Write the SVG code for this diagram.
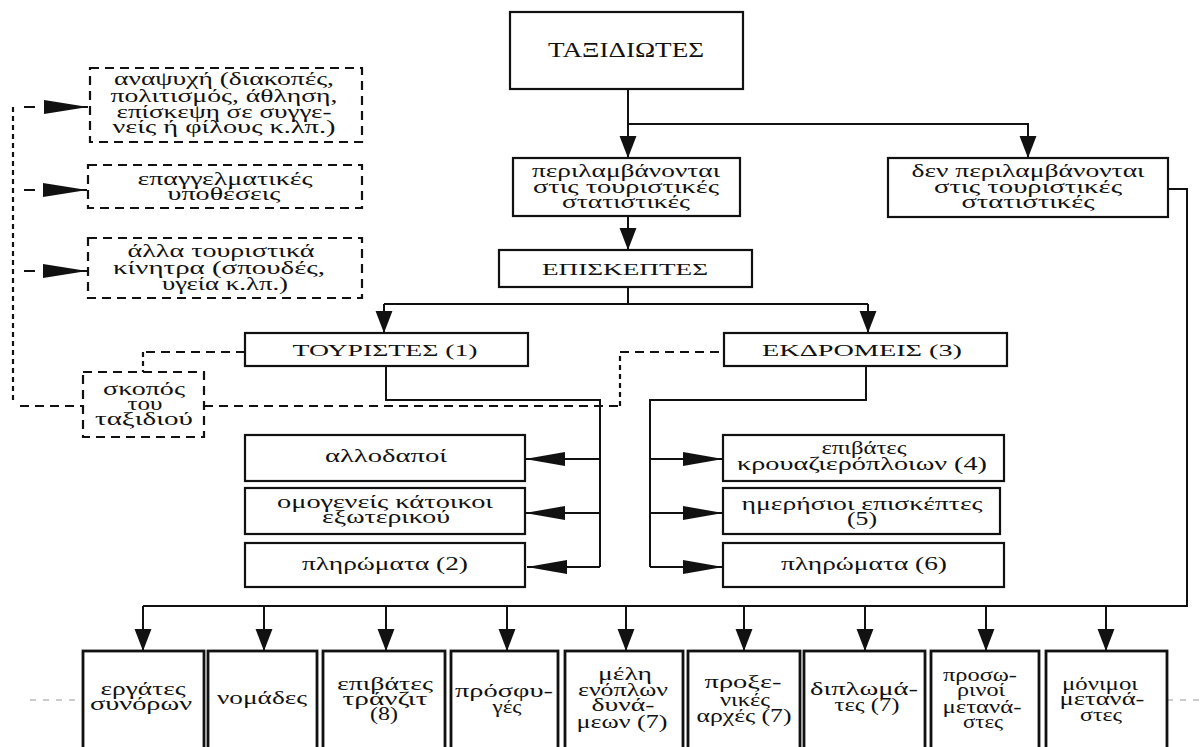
<svg xmlns="http://www.w3.org/2000/svg" width="1203" height="747" viewBox="0 0 1203 747">
<style>
text{font-family:"Liberation Serif","DejaVu Serif",serif;font-size:19px;fill:#111;text-anchor:middle}
.cap{font-size:17px}
.big{font-size:20px}
.box{fill:#fff;stroke:#111;stroke-width:2.2}
.bbox{fill:#fff;stroke:#111;stroke-width:2.8}
.dbox{fill:#fff;stroke:#111;stroke-width:2.2;stroke-dasharray:9 6}
.ln{fill:none;stroke:#111;stroke-width:2}
.dash{fill:none;stroke:#111;stroke-width:2;stroke-dasharray:9 6}
.dot{fill:none;stroke:#111;stroke-width:2.2;stroke-dasharray:5 4}
.art{fill:none;stroke:#999;stroke-width:1;stroke-dasharray:6 7}
</style>
<defs>
<marker id="ad" markerUnits="userSpaceOnUse" markerWidth="22" markerHeight="28" refX="26" refY="10" viewBox="0 0 26 20" orient="auto"><path d="M0,0 L26,10 L0,20 z" fill="#111"/></marker>
<marker id="ah" markerUnits="userSpaceOnUse" markerWidth="40" markerHeight="14" refX="40" refY="7" viewBox="0 0 40 14" orient="auto"><path d="M0,0 L40,7 L0,14 z" fill="#111"/></marker>
<marker id="al" markerUnits="userSpaceOnUse" markerWidth="44" markerHeight="14" refX="44" refY="7" viewBox="0 0 44 14" orient="auto"><path d="M0,0 L44,7 L0,14 z" fill="#111"/></marker>
</defs>
<rect width="1203" height="747" fill="#fff"/>
<g id="artifacts">
<path class="art" d="M30,700 H83 M1167,700 H1203"/>
</g>
<g id="connectors">
<path class="ln" d="M628,89 V158" marker-end="url(#ad)"/>
<path class="ln" d="M628,124 H1028 V158" marker-end="url(#ad)"/>
<path class="ln" d="M628,216 V250" marker-end="url(#ad)"/>
<path class="ln" d="M628,287 V304 M384,304 H868"/>
<path class="ln" d="M384,304 V333" marker-end="url(#ad)"/>
<path class="ln" d="M868,304 V333" marker-end="url(#ad)"/>
<path class="ln" d="M386,366 V400 H600 V567"/>
<path class="ln" d="M600,459 H525" marker-end="url(#ah)"/>
<path class="ln" d="M600,513 H525" marker-end="url(#ah)"/>
<path class="ln" d="M600,567 H527" marker-end="url(#ah)"/>
<path class="ln" d="M866,366 V400 H650 V567"/>
<path class="ln" d="M650,459 H723" marker-end="url(#ah)"/>
<path class="ln" d="M650,513 H723" marker-end="url(#ah)"/>
<path class="ln" d="M650,567 H723" marker-end="url(#ah)"/>
<path class="ln" d="M1168,189 H1187 V606 H143"/>
<path class="ln" d="M143,606 V651" marker-end="url(#ad)"/>
<path class="ln" d="M264,606 V651" marker-end="url(#ad)"/>
<path class="ln" d="M386,606 V651" marker-end="url(#ad)"/>
<path class="ln" d="M507,606 V651" marker-end="url(#ad)"/>
<path class="ln" d="M626,606 V651" marker-end="url(#ad)"/>
<path class="ln" d="M744,606 V651" marker-end="url(#ad)"/>
<path class="ln" d="M865,606 V651" marker-end="url(#ad)"/>
<path class="ln" d="M986,606 V651" marker-end="url(#ad)"/>
<path class="ln" d="M1106,606 V651" marker-end="url(#ad)"/>
<path class="dash" d="M245,352 H143"/>
<path class="dot" d="M143,352 V372"/>
<path class="dot" d="M13,107 V400"/>
<path class="dash" d="M20,406 H83"/>
<path class="dash" d="M204,406 H620"/>
<path class="dot" d="M620,406 V352"/>
<path class="dash" d="M620,352 H724"/>
<path class="ln" d="M24,107 H35 M24,190 H35 M24,271 H35"/>
<path class="ln" d="M44,107 H88" marker-end="url(#al)"/>
<path class="ln" d="M44,190 H87" marker-end="url(#al)"/>
<path class="ln" d="M44,271 H87" marker-end="url(#al)"/>
</g>
<g id="n-taxidiotes" lengthAdjust="spacingAndGlyphs"><rect class="box" x="510" y="12" width="233" height="77"/><text class="big" x="626" y="57" textLength="156" lengthAdjust="spacingAndGlyphs">ΤΑΞΙΔΙΩΤΕΣ</text></g>
<g id="n-perilamv"><rect class="box" x="513" y="158" width="227" height="58"/>
<text x="626" y="177" textLength="188" lengthAdjust="spacingAndGlyphs">περιλαμβάνονται</text>
<text x="626" y="193" textLength="186" lengthAdjust="spacingAndGlyphs">στις τουριστικές</text>
<text x="626" y="208" textLength="128" lengthAdjust="spacingAndGlyphs">στατιστικές</text></g>
<g id="n-den"><rect class="box" x="888" y="158" width="280" height="59"/>
<text x="1028" y="177" textLength="233" lengthAdjust="spacingAndGlyphs">δεν περιλαμβάνονται</text>
<text x="1028" y="193" textLength="188" lengthAdjust="spacingAndGlyphs">στις τουριστικές</text>
<text x="1028" y="208" textLength="133" lengthAdjust="spacingAndGlyphs">στατιστικές</text></g>
<g id="n-episkeptes"><rect class="box" x="499" y="250" width="253" height="37"/><text class="cap" x="625" y="275" textLength="166" lengthAdjust="spacingAndGlyphs">ΕΠΙΣΚΕΠΤΕΣ</text></g>
<g id="n-touristes"><rect class="box" x="245" y="333" width="283" height="33"/><text class="cap" x="385" y="356" textLength="185" lengthAdjust="spacingAndGlyphs">ΤΟΥΡΙΣΤΕΣ (1)</text></g>
<g id="n-ekdromeis"><rect class="box" x="724" y="333" width="283" height="33"/><text class="cap" x="862" y="356" textLength="200" lengthAdjust="spacingAndGlyphs">ΕΚΔΡΟΜΕΙΣ (3)</text></g>
<g id="n-anapsyxi"><rect class="dbox" x="90" y="68" width="272" height="74"/>
<text x="224" y="85" textLength="220" lengthAdjust="spacingAndGlyphs">αναψυχή (διακοπές,</text>
<text x="224" y="102" textLength="227" lengthAdjust="spacingAndGlyphs">πολιτισμός, άθληση,</text>
<text x="224" y="118" textLength="215" lengthAdjust="spacingAndGlyphs">επίσκεψη σε συγγε-</text>
<text x="224" y="133" textLength="223" lengthAdjust="spacingAndGlyphs">νείς ή φίλους κ.λπ.)</text></g>
<g id="n-epaggelm"><rect class="dbox" x="88" y="165" width="274" height="43"/>
<text x="225" y="185" textLength="175" lengthAdjust="spacingAndGlyphs">επαγγελματικές</text>
<text x="224" y="200" textLength="113" lengthAdjust="spacingAndGlyphs">υποθέσεις</text></g>
<g id="n-alla"><rect class="dbox" x="88" y="238" width="274" height="60"/>
<text x="221" y="257" textLength="187" lengthAdjust="spacingAndGlyphs">άλλα τουριστικά</text>
<text x="219" y="274" textLength="212" lengthAdjust="spacingAndGlyphs">κίνητρα (σπουδές,</text>
<text x="225" y="290" textLength="126" lengthAdjust="spacingAndGlyphs">υγεία κ.λπ.)</text></g>
<g id="n-skopos"><rect class="dbox" x="83" y="372" width="121" height="65"/>
<text x="144" y="395" textLength="82" lengthAdjust="spacingAndGlyphs">σκοπός</text>
<text x="145" y="410" textLength="35" lengthAdjust="spacingAndGlyphs">του</text>
<text x="144" y="425" textLength="98" lengthAdjust="spacingAndGlyphs">ταξιδιού</text></g>
<g id="n-allodapoi"><rect class="box" x="245" y="435" width="280" height="46"/><text x="386" y="462" textLength="122" lengthAdjust="spacingAndGlyphs">αλλοδαποί</text></g>
<g id="n-omogeneis"><rect class="box" x="245" y="488" width="280" height="46"/>
<text x="385" y="508" textLength="216" lengthAdjust="spacingAndGlyphs">ομογενείς κάτοικοι</text>
<text x="386" y="523" textLength="128" lengthAdjust="spacingAndGlyphs">εξωτερικού</text></g>
<g id="n-plir2"><rect class="box" x="245" y="543" width="280" height="44"/><text x="385" y="570" textLength="166" lengthAdjust="spacingAndGlyphs">πληρώματα (2)</text></g>
<g id="n-krouaz"><rect class="box" x="723" y="435" width="281" height="46"/>
<text x="864" y="454" textLength="85" lengthAdjust="spacingAndGlyphs">επιβάτες</text>
<text x="862" y="470" textLength="250" lengthAdjust="spacingAndGlyphs">κρουαζιερόπλοιων (4)</text></g>
<g id="n-imerisioi"><rect class="box" x="723" y="488" width="277" height="46"/>
<text x="862" y="510" textLength="241" lengthAdjust="spacingAndGlyphs">ημερήσιοι επισκέπτες</text>
<text x="862" y="525" textLength="30" lengthAdjust="spacingAndGlyphs">(5)</text></g>
<g id="n-plir6"><rect class="box" x="723" y="543" width="281" height="44"/><text x="864" y="570" textLength="166" lengthAdjust="spacingAndGlyphs">πληρώματα (6)</text></g>
<g id="n-ergates"><rect class="bbox" x="83" y="651" width="121" height="110"/>
<text x="143" y="695" textLength="85" lengthAdjust="spacingAndGlyphs">εργάτες</text>
<text x="141" y="710" textLength="102" lengthAdjust="spacingAndGlyphs">συνόρων</text></g>
<g id="n-nomades"><rect class="bbox" x="208" y="651" width="109" height="110"/>
<text x="262" y="704" textLength="90" lengthAdjust="spacingAndGlyphs">νομάδες</text></g>
<g id="n-transit"><rect class="bbox" x="323" y="651" width="122" height="110"/>
<text x="385" y="690" textLength="96" lengthAdjust="spacingAndGlyphs">επιβάτες</text>
<text x="385" y="705" textLength="85" lengthAdjust="spacingAndGlyphs">τράνζιτ</text>
<text x="384" y="720" textLength="28" lengthAdjust="spacingAndGlyphs">(8)</text></g>
<g id="n-prosfyges"><rect class="bbox" x="451" y="651" width="107" height="110"/>
<text x="504" y="697" textLength="98" lengthAdjust="spacingAndGlyphs">πρόσφυ-</text>
<text x="507" y="713" textLength="29" lengthAdjust="spacingAndGlyphs">γές</text></g>
<g id="n-meli"><rect class="bbox" x="565" y="651" width="118" height="110"/>
<text x="625" y="680" textLength="54" lengthAdjust="spacingAndGlyphs">μέλη</text>
<text x="623" y="696" textLength="90" lengthAdjust="spacingAndGlyphs">ενόπλων</text>
<text x="623" y="711" textLength="63" lengthAdjust="spacingAndGlyphs">δυνά-</text>
<text x="622" y="728" textLength="91" lengthAdjust="spacingAndGlyphs">μεων (7)</text></g>
<g id="n-proxenikes"><rect class="bbox" x="688" y="651" width="112" height="110"/>
<text x="743" y="688" textLength="77" lengthAdjust="spacingAndGlyphs">προξε-</text>
<text x="745" y="706" textLength="50" lengthAdjust="spacingAndGlyphs">νικές</text>
<text x="744" y="722" textLength="95" lengthAdjust="spacingAndGlyphs">αρχές (7)</text></g>
<g id="n-diplomates"><rect class="bbox" x="804" y="651" width="121" height="110"/>
<text x="864" y="695" textLength="108" lengthAdjust="spacingAndGlyphs">διπλωμά-</text>
<text x="867" y="711" textLength="65" lengthAdjust="spacingAndGlyphs">τες (7)</text></g>
<g id="n-prosorinoi"><rect class="bbox" x="931" y="651" width="108" height="110"/>
<text x="980" y="681" textLength="74" lengthAdjust="spacingAndGlyphs">προσω-</text>
<text x="981" y="696" textLength="48" lengthAdjust="spacingAndGlyphs">ρινοί</text>
<text x="982" y="713" textLength="79" lengthAdjust="spacingAndGlyphs">μετανά-</text>
<text x="983" y="728" textLength="40" lengthAdjust="spacingAndGlyphs">στες</text></g>
<g id="n-monimoi"><rect class="bbox" x="1046" y="651" width="121" height="110"/>
<text x="1100" y="690" textLength="76" lengthAdjust="spacingAndGlyphs">μόνιμοι</text>
<text x="1102" y="705" textLength="85" lengthAdjust="spacingAndGlyphs">μετανά-</text>
<text x="1101" y="721" textLength="42" lengthAdjust="spacingAndGlyphs">στες</text></g>
</svg>
